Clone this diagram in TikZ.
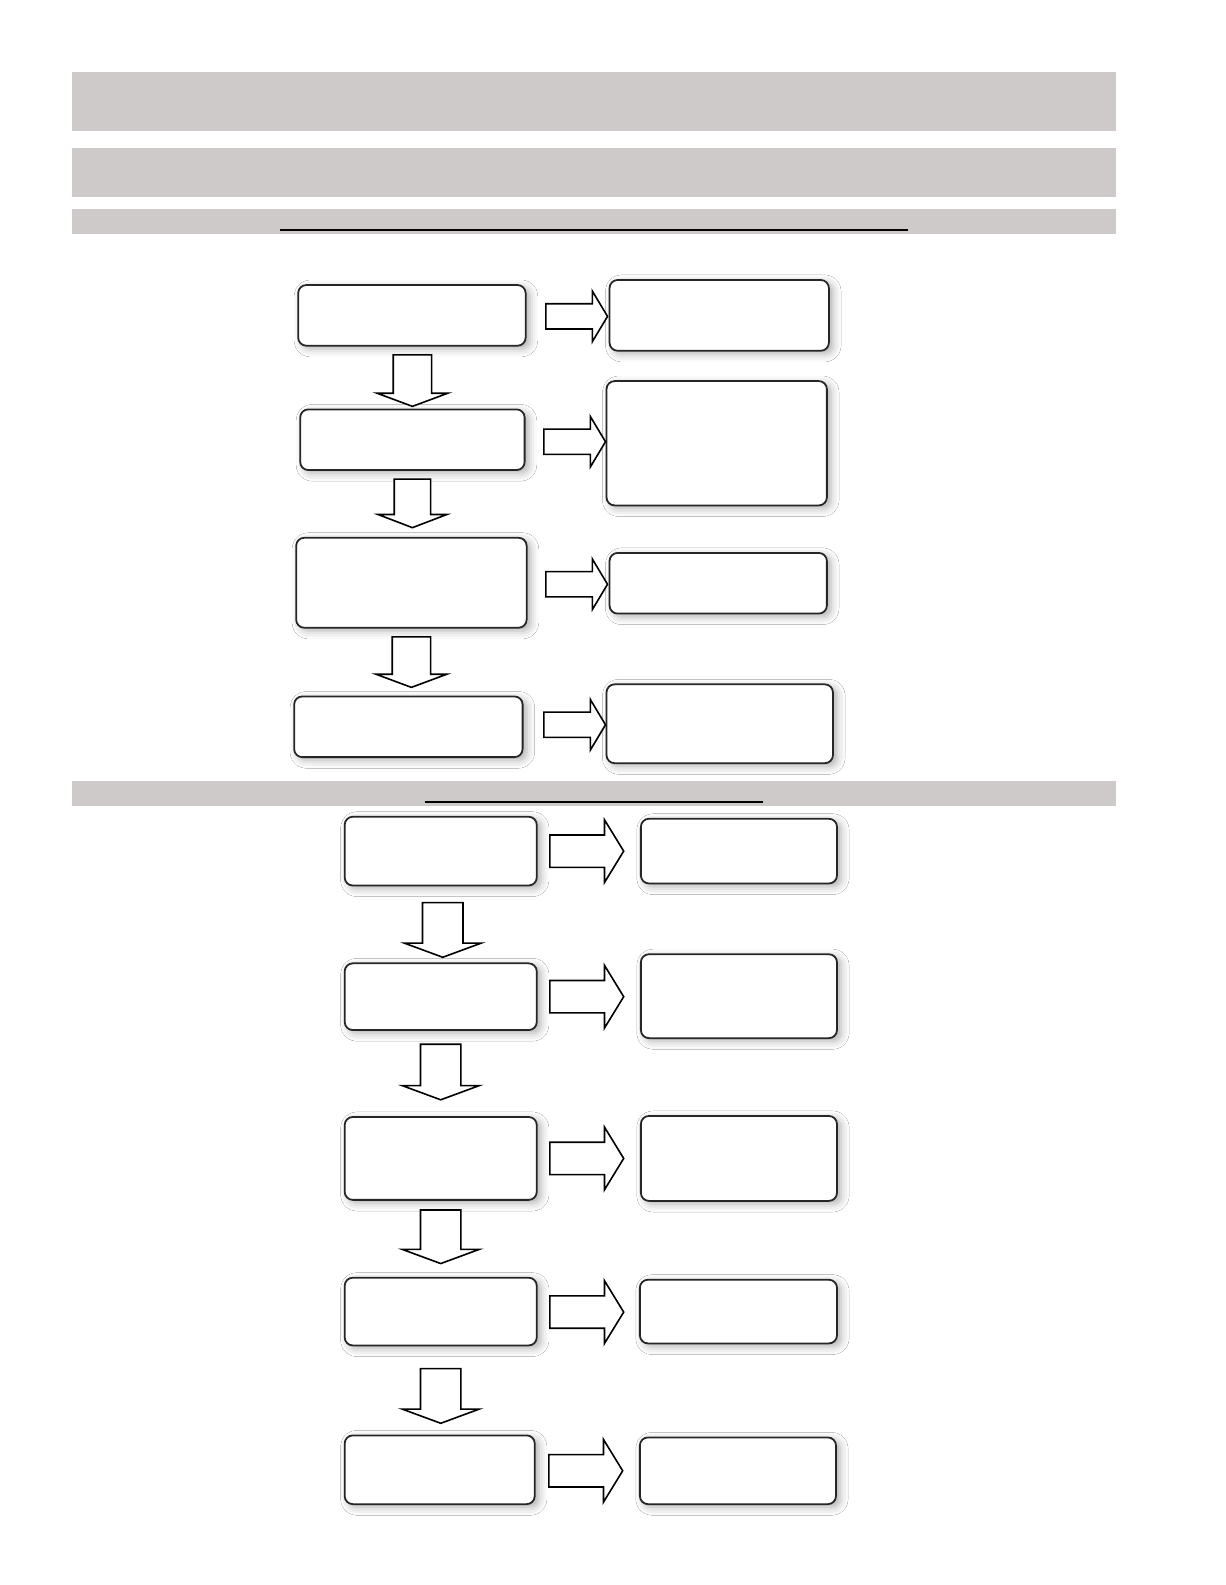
\documentclass[tikz,border=0pt]{standalone}
\usetikzlibrary{calc,shadows.blur}
\definecolor{bandgray}{RGB}{206,202,201}
\tikzset{
  x=0.2mm, y=-0.2mm,
  band/.style={fill=bandgray, draw=none},
  uline/.style={line width=1.3pt, black},
  flowbox/.style={draw=black!85, line width=1pt, fill=white, rounded corners=1.6mm,
    inner sep=0pt, outer sep=0pt,
    blur shadow={shadow xshift=0.8mm, shadow yshift=-0.6mm, shadow blur radius=1.6mm, shadow opacity=32}},
  blockarrow/.style={draw=black, line width=0.9pt, fill=white, line join=miter}
}
% box by corners (picture units)
\newcommand\flowboxat[5]{\node[flowbox, minimum width={(#4-#2)*0.2mm}, minimum height={(#5-#3)*0.2mm}] (#1) at ({(#2+#4)/2},{(#3+#5)/2}) {};}
% right block arrow: tail, tip, shaft half, head half, head length
\newcommand\barrowR[5]{\draw[blockarrow] ($(#1)+(0,-#3)$) -- ($(#2)+(-#5,-#3)$) -- ($(#2)+(-#5,-#4)$) -- (#2) -- ($(#2)+(-#5,#4)$) -- ($(#2)+(-#5,#3)$) -- ($(#1)+(0,#3)$) -- cycle;}
% down block arrow: tail, tip, shaft half, head half, head length
\newcommand\barrowD[5]{\draw[blockarrow] ($(#1)+(-#3,0)$) -- ($(#2)+(-#3,-#5)$) -- ($(#2)+(-#4,-#5)$) -- (#2) -- ($(#2)+(#4,-#5)$) -- ($(#2)+(#3,-#5)$) -- ($(#1)+(#3,0)$) -- cycle;}
\begin{document}
\begin{tikzpicture}
\useasboundingbox (0,0) rectangle (1212,1568);
\fill[white] (0,0) rectangle (1212,1568);
% header bands
\fill[band] (71,71) rectangle (1104,130);
\fill[band] (71,146) rectangle (1104,195);
\fill[band] (71,207) rectangle (1104,231);
\coordinate (u1a) at (277,227.5); \coordinate (u1b) at (898,227.5);
\draw[uline] (u1a) -- (u1b);
\fill[band] (71,773) rectangle (1104,797);
\coordinate (u2a) at (420,793.5); \coordinate (u2b) at (755,793.5);
\draw[uline] (u2a) -- (u2b);

% upper flow
\flowboxat{L1}{295}{282}{520}{342}
\flowboxat{L2}{297}{405}{519}{465}
\flowboxat{L3}{293}{532}{521}{621}
\flowboxat{L4}{291}{689}{517}{749}
\flowboxat{R1}{603}{277}{820}{347}
\flowboxat{R2}{600}{377}{818}{500}
\flowboxat{R3}{603}{547}{818}{607}
\flowboxat{R4}{600}{677}{824}{755}

\coordinate (a1s) at (540,313); \coordinate (a1t) at (601,313);
\coordinate (a2s) at (538,437); \coordinate (a2t) at (599,437);
\coordinate (a3s) at (540,578); \coordinate (a3t) at (601,578);
\coordinate (a4s) at (538,717); \coordinate (a4t) at (599,717);
\barrowR{a1s}{a1t}{12.5}{25}{15}
\barrowR{a2s}{a2t}{12.5}{25}{15}
\barrowR{a3s}{a3t}{12.5}{25}{15}
\barrowR{a4s}{a4t}{12.5}{25}{15}

\coordinate (d1s) at (408,351); \coordinate (d1t) at (408,402);
\coordinate (d2s) at (408,474); \coordinate (d2t) at (408,522);
\coordinate (d3s) at (407,630); \coordinate (d3t) at (407,680);
\barrowD{d1s}{d1t}{19}{35}{13}
\barrowD{d2s}{d2t}{18}{34}{13}
\barrowD{d3s}{d3t}{19}{35}{13}

% lower flow
\flowboxat{LL1}{341}{808}{531}{876}
\flowboxat{LL2}{341}{953}{531}{1019}
\flowboxat{LL3}{341}{1105}{531}{1187}
\flowboxat{LL4}{341}{1264}{531}{1331}
\flowboxat{LL5}{341}{1420}{529}{1488}
\flowboxat{RR1}{634}{810}{828}{874}
\flowboxat{RR2}{634}{944}{828}{1027}
\flowboxat{RR3}{634}{1104}{828}{1188}
\flowboxat{RR4}{633}{1266}{828}{1329}
\flowboxat{RR5}{633}{1422}{827}{1488}

\coordinate (b1s) at (544,842); \coordinate (b1t) at (617,842);
\coordinate (b2s) at (544,986); \coordinate (b2t) at (617,986);
\coordinate (b3s) at (544,1146); \coordinate (b3t) at (617,1146);
\coordinate (b4s) at (544,1298); \coordinate (b4t) at (617,1298);
\coordinate (b5s) at (543,1455); \coordinate (b5t) at (616,1455);
\barrowR{b1s}{b1t}{16}{31}{19}
\barrowR{b2s}{b2t}{16}{31}{19}
\barrowR{b3s}{b3t}{16}{31}{19}
\barrowR{b4s}{b4t}{16}{31}{19}
\barrowR{b5s}{b5t}{16}{31}{19}

\coordinate (e1s) at (438,893); \coordinate (e1t) at (438,947);
\coordinate (e2s) at (436,1033); \coordinate (e2t) at (436,1088);
\coordinate (e3s) at (436,1197); \coordinate (e3t) at (436,1250);
\coordinate (e4s) at (436,1354); \coordinate (e4t) at (436,1408);
\barrowD{e1s}{e1t}{20}{38}{14}
\barrowD{e2s}{e2t}{20}{38}{14}
\barrowD{e3s}{e3t}{20}{38}{14}
\barrowD{e4s}{e4t}{20}{38}{14}
\end{tikzpicture}
\end{document}
